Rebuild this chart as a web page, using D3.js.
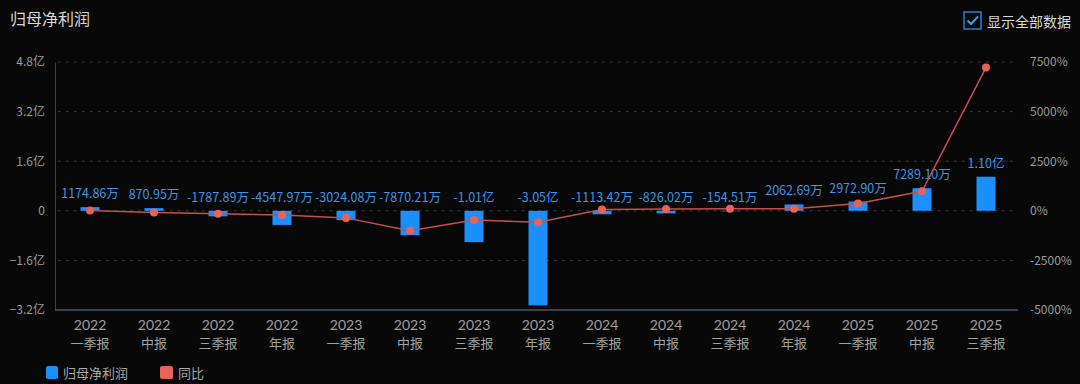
<!DOCTYPE html>
<html>
<head>
<meta charset="utf-8">
<script src="https://cdn.jsdelivr.net/npm/d3@7"></script>
<style>
  html, body { margin: 0; padding: 0; background: #080808; }
  body { width: 1080px; height: 384px; overflow: hidden; font-family: "Noto Sans CJK SC", "Noto Sans", sans-serif; }
</style>
</head>
<body>
<div id="chart"></div>
<script>
const periods = ['2022|一季报', '2022|中报', '2022|三季报', '2022|年报',
                 '2023|一季报', '2023|中报', '2023|三季报', '2023|年报',
                 '2024|一季报', '2024|中报', '2024|三季报', '2024|年报',
                 '2025|一季报', '2025|中报', '2025|三季报'];
// 归母净利润, 亿
const profit = [0.117486, 0.087095, -0.178789, -0.454797,
                -0.302408, -0.787021, -1.01, -3.05,
                -0.111342, -0.082602, -0.015451, 0.206269,
                0.297290, 0.728910, 1.10];
const profitLabels = ['1174.86万', '870.95万', '-1787.89万', '-4547.97万',
                      '-3024.08万', '-7870.21万', '-1.01亿', '-3.05亿',
                      '-1113.42万', '-826.02万', '-154.51万', '2062.69万',
                      '2972.90万', '7289.10万', '1.10亿'];
// 同比, %
const yoy = [15, -85, -150, -215, -357, -1004, -465, -571,
             63, 90, 98, 107, 367, 982, 7219];
const leftTicks = [4.8, 3.2, 1.6, 0, -1.6, -3.2];
const rightTicks = [7500, 5000, 2500, 0, -2500, -5000];

const W = 1080, H = 384;
const margin = {top: 62, right: 62, bottom: 74, left: 58};
const width = W - margin.left - margin.right,
      height = H - margin.top - margin.bottom;

const svg = d3.select('#chart').append('svg')
    .attr('width', W).attr('height', H);

// title
svg.append('text')
    .attr('x', 10).attr('y', 25)
    .style('fill', '#d8d8d8').style('font-size', '16px')
    .text('归母净利润');

// checkbox
const cb = svg.append('g').attr('transform', 'translate(964,12)');
cb.append('rect').attr('width', 17).attr('height', 17)
    .attr('fill', 'none').attr('stroke', '#2a7fd0').attr('stroke-width', 1.5);
cb.append('path').attr('d', 'M3.5,8.5 L7,12 L14,4.5')
    .attr('fill', 'none').attr('stroke', '#3a9cf0').attr('stroke-width', 2);
svg.append('text')
    .attr('x', 987).attr('y', 27)
    .style('fill', '#d8d8d8').style('font-size', '14px')
    .text('显示全部数据');

const g = svg.append('g')
    .attr('transform', 'translate(' + margin.left + ',' + margin.top + ')');

const x = d3.scaleBand().domain(periods).range([0, width]).padding(0);
const yL = d3.scaleLinear().domain([-3.2, 4.8]).range([height, 0]);
const yR = d3.scaleLinear().domain([-5000, 7500]).range([height, 0]);

// grid lines
g.append('g').selectAll('line')
    .data(leftTicks.filter(d => d !== -3.2))
    .enter().append('line')
    .attr('x1', 0).attr('x2', width)
    .attr('y1', d => yL(d)).attr('y2', d => yL(d))
    .attr('stroke', '#3a3a3a').attr('stroke-dasharray', '3,5');

// left axis
const axL = g.append('g')
    .call(d3.axisLeft(yL).tickValues(leftTicks).tickSize(0).tickPadding(13)
        .tickFormat(d => d === 0 ? '0' : d3.format('.1f')(d) + '亿'));
axL.select('.domain').attr('stroke', '#34404e').attr('transform', 'translate(-3,0)');
axL.selectAll('text').style('fill', '#9a9a9a').style('font-size', '12px')
    .style('font-family', '"Noto Sans CJK SC", sans-serif');

// right axis
const axR = g.append('g').attr('transform', 'translate(' + width + ',0)')
    .call(d3.axisRight(yR).tickValues(rightTicks).tickSize(0).tickPadding(12)
        .tickFormat(d => d + '%'));
axR.select('.domain').remove();
axR.selectAll('text').style('fill', '#9a9a9a').style('font-size', '12px')
    .style('font-family', '"Noto Sans CJK SC", sans-serif');

// bottom axis: year on the tick, report name as a second text below
const axB = g.append('g').attr('transform', 'translate(0,' + height + ')')
    .call(d3.axisBottom(x).tickSize(0).tickPadding(0).tickFormat(d => d.split('|')[0]));
axB.select('.domain').attr('stroke', '#4a5566').attr('stroke-width', 1.5)
    .attr('d', 'M-3,0H' + width);
axB.selectAll('.tick text').attr('dy', null).attr('y', 20)
    .style('fill', '#a0a0a0').style('font-size', '14px')
    .style('font-family', 'Lato, sans-serif');
axB.selectAll('.tick').append('text')
    .attr('y', 38).attr('text-anchor', 'middle')
    .style('fill', '#a0a0a0').style('font-size', '13px')
    .style('font-family', '"Noto Sans CJK SC", sans-serif')
    .text(d => d.split('|')[1]);

// bars
const barW = 19;
g.selectAll('.bar').data(periods).enter().append('rect')
    .attr('class', 'bar')
    .attr('x', (d, i) => x(d) + x.bandwidth() / 2 - barW / 2)
    .attr('y', (d, i) => yL(Math.max(0, profit[i])))
    .attr('width', barW)
    .attr('height', (d, i) => Math.abs(yL(profit[i]) - yL(0)))
    .attr('fill', '#1c8fff');

// bar labels
g.selectAll('.lbl').data(periods).enter().append('text')
    .attr('x', d => x(d) + x.bandwidth() / 2)
    .attr('y', (d, i) => yL(Math.max(0, profit[i])) - 9)
    .attr('text-anchor', 'middle')
    .style('fill', '#3d95e6').style('font-size', '12.5px')
    .style('font-family', '"Noto Sans CJK SC", sans-serif')
    .text((d, i) => profitLabels[i]);

// yoy line
const line = d3.line()
    .x((d, i) => x(periods[i]) + x.bandwidth() / 2)
    .y(d => yR(d));
g.append('path').datum(yoy)
    .attr('d', line)
    .attr('fill', 'none').attr('stroke', '#c4504a').attr('stroke-width', 1.5);
g.selectAll('.pt').data(yoy).enter().append('circle')
    .attr('cx', (d, i) => x(periods[i]) + x.bandwidth() / 2)
    .attr('cy', d => yR(d))
    .attr('r', 4)
    .attr('fill', '#e8625c');

// legend
const leg = svg.append('g').attr('transform', 'translate(46,366)');
leg.append('rect').attr('width', 12).attr('height', 13).attr('rx', 2).attr('fill', '#1c8fff');
leg.append('text').attr('x', 17).attr('y', 12)
    .style('fill', '#a8a8a8').style('font-size', '13px').text('归母净利润');
leg.append('rect').attr('x', 114).attr('width', 13).attr('height', 13).attr('rx', 2).attr('fill', '#e8625c');
leg.append('text').attr('x', 132).attr('y', 12)
    .style('fill', '#a8a8a8').style('font-size', '13px').text('同比');
</script>
</body>
</html>
